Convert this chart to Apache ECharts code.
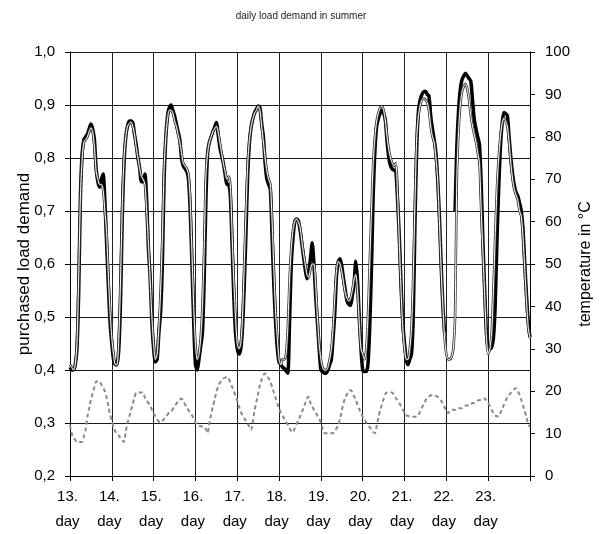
<!DOCTYPE html>
<html>
<head>
<meta charset="utf-8">
<script src="https://cdn.jsdelivr.net/npm/echarts@6/dist/echarts.min.js"></script>
<style>
html,body{margin:0;padding:0;background:#fff;}
#chart{width:602px;height:534px;}
</style>
</head>
<body>
<div id="chart"></div>
<script>
// x positions are hours from the start of day 13 (hourly readings)
const dayLabels = ['13.', '14.', '15.', '16.', '17.', '18.', '19.', '20.', '21.', '22.', '23.'];
const dayUnit = 'day';
const hoursPerDay = 24;
const titleText = 'daily load demand in summer';
const leftAxisName = 'purchased load demand';
const rightAxisName = 'temperature in \u00B0C';

// purchased load demand (actual, thick black), hourly
const actualLoad = [
  .405,.40,.40,.41,.44,.55,.73,.81,.835,.84,.845,.855,.864,.855,.835,.78,.755,.745,.76,.77,.72,.64,.56,.49,
  .45,.42,.41,.41,.44,.53,.69,.79,.84,.86,.87,.87,.867,.845,.825,.80,.78,.755,.755,.77,.72,.63,.575,.49,
  .44,.415,.42,.47,.51,.60,.76,.84,.88,.895,.90,.89,.88,.865,.85,.835,.80,.785,.78,.775,.76,.70,.60,.49,
  .41,.40,.42,.445,.47,.57,.72,.81,.83,.84,.85,.858,.867,.845,.82,.805,.79,.77,.75,.75,.73,.64,.54,.47,
  .44,.43,.44,.48,.56,.66,.77,.83,.86,.875,.886,.892,.898,.895,.865,.84,.79,.76,.75,.74,.65,.56,.49,.44,
  .415,.41,.405,.403,.398,.394,.49,.60,.65,.68,.685,.682,.665,.64,.615,.59,.572,.585,.61,.64,.60,.54,.49,.44,
  .40,.397,.394,.394,.40,.41,.42,.46,.51,.58,.605,.61,.595,.572,.55,.53,.524,.522,.54,.56,.605,.57,.50,.44,
  .40,.397,.397,.41,.48,.59,.73,.815,.86,.875,.885,.89,.885,.87,.83,.80,.785,.779,.777,.775,.72,.65,.56,.49,
  .45,.42,.41,.42,.43,.50,.68,.82,.89,.91,.92,.925,.926,.92,.917,.88,.855,.835,.81,.76,.69,.60,.52,.47,
  null,null,null,null,null,.70,.82,.89,.93,.948,.955,.96,.955,.95,.945,.91,.873,.855,.84,.825,.75,.64,.55,.47,
  .44,.44,.443,.46,.52,.64,.74,.82,.865,.886,.884,.88,.84,.80,.77,.748,.735,.728,.715,.70,.665,.60,.54,.49,
  .462
];

// second load curve (thin white line with dark edges), hourly
const forecastLoad = [
  .41,.405,.40,.41,.45,.58,.73,.80,.83,.835,.84,.85,.857,.85,.82,.775,.76,.75,.75,.74,.70,.66,.58,.51,
  .46,.43,.41,.41,.46,.57,.71,.80,.84,.86,.865,.868,.86,.845,.82,.80,.78,.765,.76,.75,.70,.64,.57,.50,
  .45,.42,.43,.48,.55,.65,.78,.84,.875,.89,.89,.885,.87,.86,.845,.83,.81,.79,.785,.78,.77,.72,.62,.52,
  .45,.42,.43,.46,.52,.63,.77,.81,.83,.84,.85,.855,.86,.85,.83,.81,.79,.775,.76,.765,.75,.66,.57,.50,
  .45,.44,.45,.50,.60,.70,.79,.835,.86,.875,.885,.89,.898,.89,.86,.83,.80,.775,.76,.75,.68,.59,.51,.46,
  .42,.41,.42,.42,.43,.48,.57,.63,.665,.68,.685,.68,.67,.645,.62,.60,.58,.575,.59,.60,.60,.56,.50,.45,
  .42,.405,.40,.40,.405,.42,.44,.48,.54,.59,.605,.60,.585,.565,.545,.535,.53,.535,.55,.57,.58,.55,.49,.44,
  .43,.42,.44,.50,.60,.70,.79,.84,.87,.885,.895,.898,.89,.87,.84,.815,.80,.79,.785,.79,.73,.64,.55,.48,
  .44,.42,.42,.44,.48,.58,.72,.84,.88,.90,.91,.912,.91,.905,.89,.86,.84,.83,.80,.76,.68,.59,.52,.46,
  .43,.42,.42,.425,.44,.50,.76,.85,.90,.925,.935,.94,.93,.91,.88,.86,.845,.83,.81,.79,.70,.62,.54,.46,
  .43,.44,.47,.55,.65,.74,.80,.84,.865,.875,.87,.86,.83,.79,.76,.74,.73,.72,.70,.69,.65,.59,.53,.48,
  .46
];

// temperature in degrees C (right axis), hourly
const temperature = [
  12,10,9,8.5,8,8,8,8,9.5,11,14,16,18,19.5,21,22.3,22.3,22.3,21.5,20.8,20,18.5,16.5,14.5,
  13,11.5,10.5,10,9.5,9,8.5,8,10.5,12.5,14,15.5,17,18.5,19.7,19.7,19.7,19.7,19.7,18.4,17.8,17.2,16.6,15.6,
  14.7,14.1,13.4,12.8,12.6,13,13.5,14,14.5,15,15.2,15.8,16.5,17,17.6,18,18.3,17.6,16.9,16.2,15.5,14.9,14.3,13.5,
  12.7,12.1,11.8,11.8,11.7,11.7,11,10.1,12.5,14.5,16.4,18,19.8,21.1,22,22.5,23,23.2,23.4,23,22,21,20,18.9,
  17.7,16.4,15.2,14.3,13.6,13,12.3,11.6,10.9,13,15.6,17.5,19.5,21.5,22.8,23.8,24.2,23.8,23,22.2,21,19.7,18.4,17,
  15.8,14.9,14.2,13.5,12.8,12.1,11.4,10.5,10.3,11.3,12.2,13,14,15,16,17.2,18.3,18.7,17.2,16.4,15.6,15,14.2,13.4,
  12.6,11.2,10.1,10.1,10.1,10.1,10.1,10.1,10.5,11.3,12,13.5,15.5,17.2,18.5,19.3,20,20.3,19.8,18.8,18,16.8,15.8,14.8,
  14,13.4,12.6,12,11.5,11,10.4,10.1,11.8,13.8,15.5,16.8,18.2,19.4,19.7,19.7,19.7,19.7,19,18.4,17.8,17.2,16.4,15.7,
  14.9,14.3,14.2,14,14,14,14,14,14.4,15.2,16.1,17,17.8,18.6,18.8,19,19.1,19,18.9,18.7,18.3,17.8,17,16.2,
  15.2,14.8,15.4,15.6,15.6,15.6,15.8,16,16,16,16.4,16.6,16.6,16.6,16.8,17.2,17.2,17.4,17.8,17.9,18.1,18.3,18.3,17.8,
  17.2,16.5,15.6,14.8,14.3,14.1,14,14.8,15.8,16.8,17.8,18.6,19.1,19.6,20.1,20.5,20.7,20,19.2,18,16.6,15.3,13.8,12.2,
  11.5
];

const toPairs = arr => arr.map((v, i) => [i, v === null ? '-' : v]);
const FONT = 'Liberation Sans';

const chart = echarts.init(document.getElementById('chart'), null, {renderer: 'canvas'});
chart.setOption({
  animation: false,
  backgroundColor: '#fff',
  title: {
    text: titleText, left: 'center', top: 6,
    textStyle: {fontFamily: FONT, fontSize: 10, fontWeight: 'normal', color: '#222'}
  },
  grid: {left: 70, right: 71, top: 52, bottom: 56},
  xAxis: {
    type: 'value', min: 0, max: dayLabels.length * hoursPerDay, interval: hoursPerDay,
    axisLine: {lineStyle: {color: '#000', width: 1}},
    axisTick: {show: true, length: 5, lineStyle: {color: '#000'}},
    splitLine: {show: true, lineStyle: {color: '#222', width: 1}},
    axisLabel: {
      margin: 8, fontFamily: FONT, fontSize: 15, color: '#000', lineHeight: 25,
      padding: [0, 5, 0, 0],
      formatter: v => {
        const i = Math.round(v / hoursPerDay);
        return i < dayLabels.length ? dayLabels[i] + '\n' + dayUnit : '';
      }
    }
  },
  yAxis: [{
    type: 'value', min: 0.2, max: 1.0, interval: 0.1, position: 'left',
    name: leftAxisName, nameLocation: 'middle', nameGap: 37, nameRotate: 90,
    nameMoveOverlap: false,
    nameTextStyle: {fontFamily: FONT, fontSize: 17, color: '#000'},
    axisLine: {show: true, lineStyle: {color: '#000'}},
    axisTick: {show: true, length: 5, lineStyle: {color: '#000'}},
    splitLine: {show: true, lineStyle: {color: '#1a1a1a', width: 1}},
    axisLabel: {margin: 15, fontFamily: FONT, fontSize: 15, color: '#000',
      formatter: v => v.toFixed(1).replace('.', ',')}
  }, {
    type: 'value', min: 0, max: 100, interval: 10, position: 'right',
    name: rightAxisName, nameLocation: 'middle', nameGap: 48, nameRotate: 90,
    nameMoveOverlap: false,
    nameTextStyle: {fontFamily: FONT, fontSize: 16, color: '#000'},
    axisLine: {show: true, lineStyle: {color: '#000'}},
    axisTick: {show: true, length: 5, lineStyle: {color: '#000'}},
    splitLine: {show: false},
    axisLabel: {margin: 15, fontFamily: FONT, fontSize: 15, color: '#000'}
  }],
  series: [{
    name: 'temperature', type: 'line', yAxisIndex: 1, data: toPairs(temperature),
    showSymbol: false, smooth: 0.2,
    lineStyle: {color: '#8a8a8a', width: 2, type: [4, 3]}, z: 2
  }, {
    name: 'actual', type: 'line', data: toPairs(actualLoad),
    showSymbol: false, smooth: 0.25, connectNulls: false,
    lineStyle: {color: '#000', width: 3.5}, z: 3
  }, {
    name: 'forecast edge', type: 'line', data: toPairs(forecastLoad),
    showSymbol: false, smooth: 0.25,
    lineStyle: {color: '#333', width: 2.6}, z: 4
  }, {
    name: 'forecast', type: 'line', data: toPairs(forecastLoad),
    showSymbol: false, smooth: 0.25,
    lineStyle: {color: '#fff', width: 1}, z: 5
  }]
});
</script>
</body>
</html>
